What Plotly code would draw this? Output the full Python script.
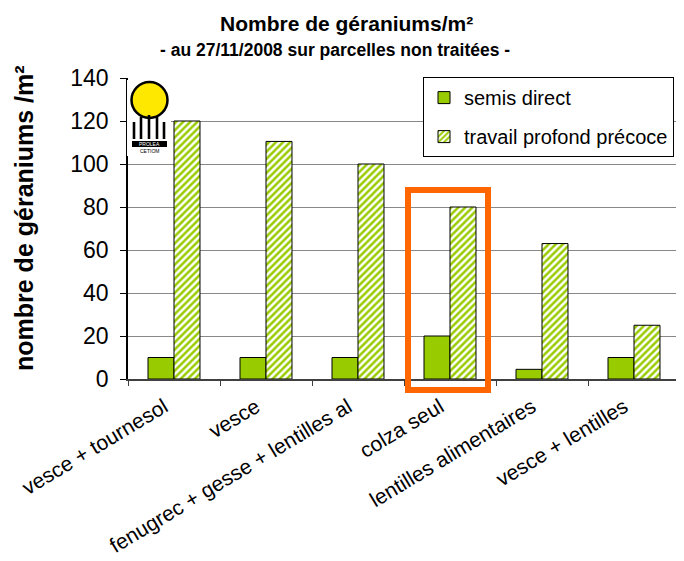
import plotly.graph_objects as go

categories = ["vesce + tournesol", "vesce", "fenugrec + gesse + lentilles al",
              "colza seul", "lentilles alimentaires", "vesce + lentilles"]
semis_direct = [10, 10, 10, 20, 4.5, 10]
travail_profond = [120, 110.5, 100, 80, 63, 25]
y_ticks = [0, 20, 40, 60, 80, 100, 120, 140]

GREEN = "#99CC00"
FONT = "Liberation Sans, Arial, sans-serif"

fig = go.Figure()
fig.add_trace(go.Bar(
    x=categories, y=semis_direct, name="semis direct",
    marker=dict(color=GREEN, line=dict(color="black", width=1)),
    legendgroup="a",
))
fig.add_trace(go.Bar(
    x=categories, y=travail_profond, name="travail profond précoce",
    marker=dict(color="white", line=dict(color="black", width=1),
                pattern=dict(shape="/", fgcolor=GREEN, bgcolor="white",
                             size=5, solidity=0.5, fgopacity=1, fillmode="replace")),
    legendgroup="b",
))

# page-pixel -> paper coordinate helpers (plot area: x 128..680, y 78..379 on the page)
W, H, L, T = 552, 301, 128, 78
def px(x):
    return (x - L) / W
def py(y):
    return (T + H - y) / H

shapes = [
    dict(type="line", xref="paper", yref="paper", x0=1, x1=1, y0=0, y1=1,
         line=dict(color="#808080", width=1)),
    dict(type="rect", xref="paper", yref="paper", x0=px(408), x1=px(488),
         y0=py(390), y1=py(190),
         line=dict(color="#FF6600", width=6), fillcolor="rgba(0,0,0,0)", layer="above"),
]

# logo
shapes.append(dict(type="rect", xref="paper", yref="paper",
                   x0=px(127), x1=px(171), y0=py(156), y1=py(80),
                   fillcolor="white", line=dict(width=0), layer="above"))
shapes.append(dict(type="circle", xref="paper", yref="paper",
                   x0=px(131.5), x1=px(167.5), y0=py(118), y1=py(82),
                   fillcolor="#FFE800", line=dict(color="black", width=2.5), layer="above"))
bar_x = [134, 141, 149, 157, 164]
bar_top = [122, 117, 115, 117, 122]
for bx, bt in zip(bar_x, bar_top):
    shapes.append(dict(type="rect", xref="paper", yref="paper",
                       x0=px(bx - 1.3), x1=px(bx + 1.3), y0=py(139), y1=py(bt),
                       fillcolor="black", line=dict(width=0), layer="above"))
shapes.append(dict(type="rect", xref="paper", yref="paper",
                   x0=px(132), x1=px(167), y0=py(147), y1=py(141),
                   fillcolor="black", line=dict(width=0), layer="above"))

annotations = [
    dict(text="<b>Nombre de géraniums/m²</b>", xref="paper", yref="paper",
         x=px(346), y=py(23), xanchor="center", yanchor="middle", showarrow=False,
         font=dict(size=21, family=FONT, color="black")),
    dict(text="<b>- au 27/11/2008 sur parcelles non traitées -</b>", xref="paper", yref="paper",
         x=px(335), y=py(50), xanchor="center", yanchor="middle", showarrow=False,
         font=dict(size=17.5, family=FONT, color="black")),
    dict(text="<b>nombre de géraniums /m²</b>", xref="paper", yref="paper",
         x=px(24), y=py(218), xanchor="center", yanchor="middle", showarrow=False,
         textangle=-90, font=dict(size=25, family=FONT, color="black")),
    dict(text="PROLEA", xref="paper", yref="paper", x=px(149.5), y=py(144),
         xanchor="center", yanchor="middle", showarrow=False,
         font=dict(size=5, family=FONT, color="white")),
    dict(text="CETIOM", xref="paper", yref="paper", x=px(149.5), y=py(151),
         xanchor="center", yanchor="middle", showarrow=False,
         font=dict(size=5, family=FONT, color="black")),
]

fig.update_layout(
    width=676, height=553,
    margin=dict(l=120, r=4, t=70, b=182, autoexpand=False),
    paper_bgcolor="white", plot_bgcolor="white",
    font=dict(family=FONT, color="black"),
    barmode="group", bargap=0.435, bargroupgap=0,
    showlegend=True,
    legend=dict(x=px(423), y=1.003, xanchor="left", yanchor="top",
                bordercolor="black", borderwidth=1, bgcolor="white",
                font=dict(size=20, family=FONT), traceorder="grouped",
                tracegroupgap=10, itemwidth=30),
    shapes=shapes, annotations=annotations,
)
fig.update_xaxes(
    type="category", tickangle=-31, tickfont=dict(size=21, family=FONT),
    showline=True, linecolor="#404040", linewidth=1.5,
    ticks="outside", tickson="boundaries", ticklen=5, tickcolor="#404040",
    ticklabelshift=-10, ticklabelstandoff=6,
    showgrid=False,
)
fig.update_yaxes(
    range=[0, 140], tickvals=y_ticks, tickfont=dict(size=23, family=FONT),
    showline=True, linecolor="black", linewidth=1.5,
    ticks="outside", ticklen=6, tickcolor="black", ticklabelstandoff=7,
    showgrid=True, gridcolor="#888888", gridwidth=1, zeroline=False,
)

fig.write_html("out.html")
